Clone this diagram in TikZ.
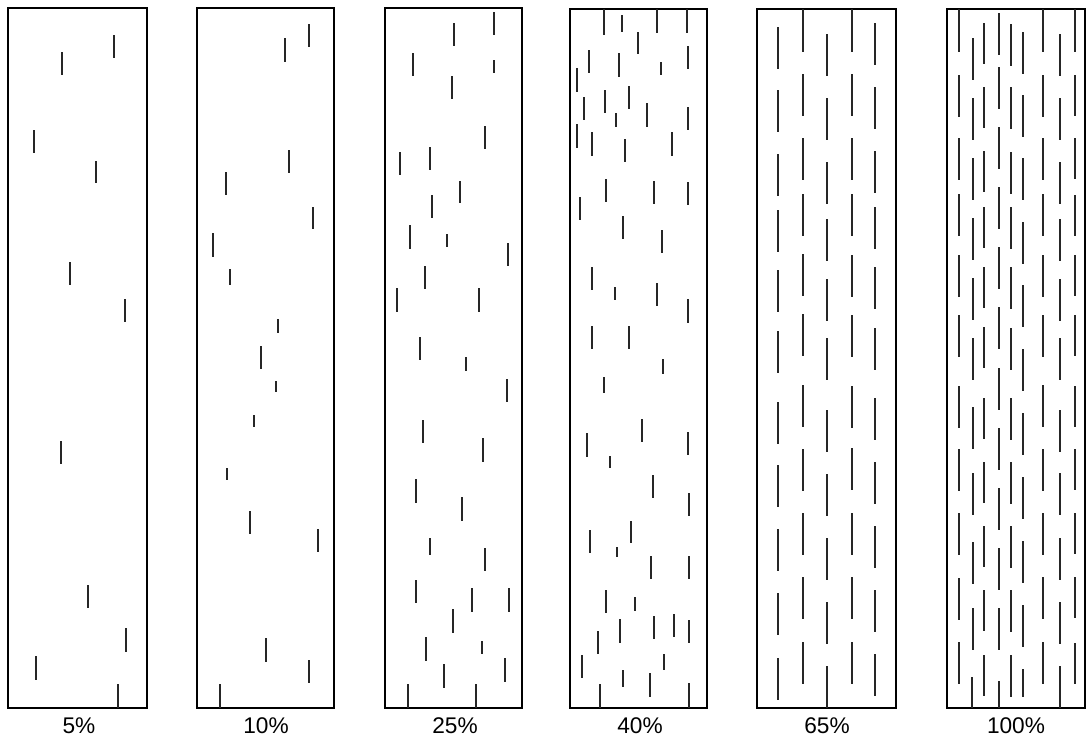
\documentclass[tikz,border=0pt]{standalone}
\usepackage{fontspec}
\setmainfont{Liberation Sans}
\begin{document}
\begin{tikzpicture}[x=0.75pt,y=-0.75pt,
  panel/.style={draw=black,line width=1.1pt},
  dsh/.style={draw=black!85,line width=1.4pt},
  dthin/.style={draw=black!85,line width=1.1pt},
  lbl/.style={font=\fontsize{17}{20}\selectfont,inner sep=0pt}]
\useasboundingbox (0,0) rectangle (1087,739);
% panels
\draw[panel] (8,8) rectangle (147,708);
\draw[panel] (197,8) rectangle (334,708);
\draw[panel] (385,8) rectangle (522,708);
\draw[panel] (570,9) rectangle (707,708);
\draw[panel] (757,9) rectangle (896,708);
\draw[panel] (947,9) rectangle (1085,708);
% labels
\node[lbl] (l1) at (79,726) {5\%};
\node[lbl] (l2) at (266,726) {10\%};
\node[lbl] (l3) at (455,726) {25\%};
\node[lbl] (l4) at (640,726) {40\%};
\node[lbl] (l5) at (827,726) {65\%};
\node[lbl] (l6) at (1016,726) {100\%};
% panel 1 (5%)
\foreach \x/\a/\b in {62/52/75, 114/35/58, 34/130/153, 96/161/183, 70/262/285,
  125/299/322, 61/441/464, 88/585/608, 126/628/652, 36/656/680, 118/684/708}
  \draw[dsh] (\x,\a) -- (\x,\b);
% panel 2 (10%)
\foreach \x/\a/\b in {309/24/47, 285/38/62, 289/150/173, 226/172/195, 313/207/229,
  213/233/257, 230/269/285, 278/319/333, 261/346/369, 276/381/392, 254/415/427,
  227/468/480, 250/511/534, 318/529/552, 266/638/662, 309/660/683, 220/684/708}
  \draw[dsh] (\x,\a) -- (\x,\b);
% panel 3 (25%)
\foreach \x/\a/\b in {494/12/35, 454/23/46, 413/53/76, 494/60/73, 452/76/99,
  485/126/149, 400/152/175, 430/147/170, 460/181/203, 432/195/218, 410/225/249,
  447/234/247, 508/243/266, 425/266/289, 397/288/312, 479/288/312, 420/337/360,
  466/357/371, 507/379/402, 423/420/443, 483/438/462, 416/479/503, 462/497/521,
  430/538/555, 485/548/571, 416/580/603, 472/588/612, 509/588/612, 453/609/633,
  426/637/661, 482/641/654, 505/658/682, 444/664/688, 408/684/708, 476/684/708}
  \draw[dsh] (\x,\a) -- (\x,\b);
% panel 4 (40%)
\foreach \x/\a/\b in {604/9/35, 622/15/32, 657/9/33, 687/9/33, 638/32/54,
  589/50/73, 619/53/77, 661/62/75, 688/46/69, 577/68/92, 584/97/120, 605/90/113,
  629/86/109, 616/113/127, 647/103/127, 688/107/130, 577/124/148, 592/132/156,
  625/139/162, 672/132/156, 606/179/202, 654/181/204, 688/182/205, 580/197/220,
  623/216/239, 662/230/253, 592/267/290, 615/287/300, 657/283/306, 688/299/323,
  592/326/349, 629/326/349, 663/359/374, 604/377/393, 642/419/442, 587/433/457,
  688/432/455, 610/456/468, 653/475/498, 689/493/516, 590/530/553, 631/521/543,
  617/547/557, 651/556/579, 689/556/579, 606/590/613, 635/597/611, 620/619/643,
  654/616/639, 674/614/637, 689/620/643, 598/631/654, 582/655/678, 664/654/670,
  623/670/687, 650/673/697, 600/684/708, 689/683/708}
  \draw[dsh] (\x,\a) -- (\x,\b);
% panel 5 (65%)
\foreach \a in {27,90,154,210,270,331,402,465,529,593,658}
  \draw[dthin] (778,\a) -- (778,\a+42);
\draw[dthin] (803,9) -- (803,52);
\foreach \a in {74,138,194,254,314,385,449,513,577,642}
  \draw[dthin] (803,\a) -- (803,\a+42);
\foreach \a in {34,98,162,219,279,338,410,474,538,602}
  \draw[dthin] (827,\a) -- (827,\a+42);
\draw[dthin] (827,666) -- (827,708);
\draw[dthin] (852,9) -- (852,52);
\foreach \a in {74,138,194,255,315,386,448,513,577,642}
  \draw[dthin] (852,\a) -- (852,\a+42);
\foreach \a in {23,87,151,207,267,328,398,462,526,590,654}
  \draw[dthin] (875,\a) -- (875,\a+42);
% panel 6 (100%)
% column A
\draw[dthin] (959,9) -- (959,52);
\foreach \a in {75,138,194,255,315,386,449,513,578,642}
  \draw[dthin] (959,\a) -- (959,\a+42);
% column B
\foreach \a in {38,98,158,218,278,338,407,473,542,608}
  \draw[dthin] (973,\a) -- (973,\a+42);
\draw[dthin] (972,677) -- (972,708);
% column C
\foreach \a in {23,87,151,207,267,327,398,462,526,590,655}
  \draw[dthin] (984,\a) -- (984,\a+41);
% column D
\foreach \a in {13,67,127,187,247,307,368,428,488,548,608}
  \draw[dthin] (999,\a) -- (999,\a+42);
\draw[dthin] (999,681) -- (999,708);
% column E
\foreach \a in {24,87,152,207,267,328,398,462,526,590,655}
  \draw[dthin] (1011,\a) -- (1011,\a+42);
% column F
\foreach \a in {32,95,158,222,285,349,413,477,541,605}
  \draw[dthin] (1023,\a) -- (1023,\a+42);
\draw[dthin] (1023,669) -- (1023,697);
% column G
\draw[dthin] (1043,9) -- (1043,52);
\foreach \a in {75,138,194,255,315,385,449,513,577,642}
  \draw[dthin] (1043,\a) -- (1043,\a+42);
% column H
\foreach \a in {34,98,162,219,279,338,410,473,538,602}
  \draw[dthin] (1060,\a) -- (1060,\a+42);
\draw[dthin] (1060,666) -- (1060,708);
% column I
\draw[dthin] (1075,9) -- (1075,52);
\foreach \a in {75,138,195,255,315,386,449,513,577,643}
  \draw[dthin] (1075,\a) -- (1075,\a+41);
\end{tikzpicture}
\end{document}
